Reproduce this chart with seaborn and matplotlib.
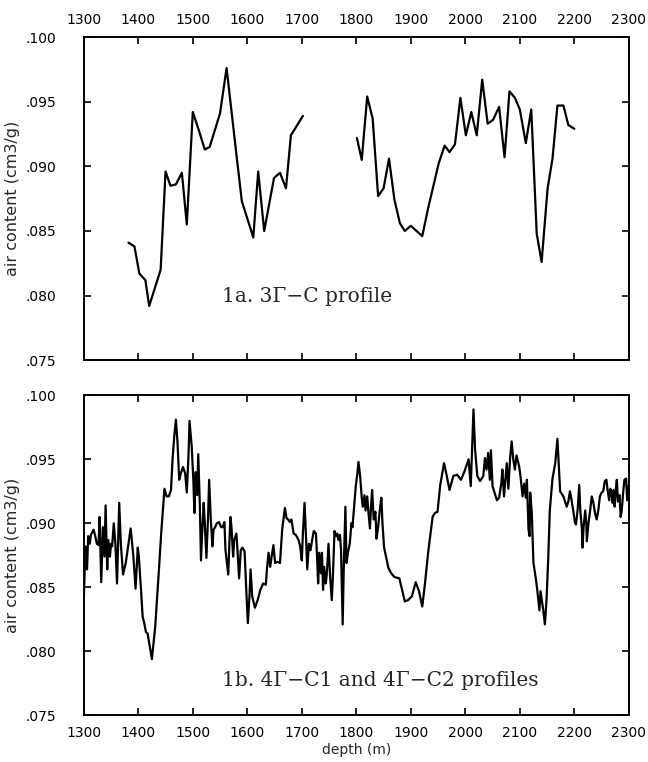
import numpy as np
import pandas as pd
import matplotlib
matplotlib.use("Agg")
import matplotlib.pyplot as plt
import seaborn as sns
from matplotlib.ticker import FuncFormatter

# -----------------------------
# DATA
# -----------------------------

# 1a. 3G-C profile, first section
depth_3gc_a = [1382, 1393, 1402, 1413, 1420, 1441, 1450, 1459, 1469, 1480, 1489, 1500,
               1511, 1522, 1531, 1550, 1562, 1582, 1590, 1611, 1620, 1631, 1649, 1660,
               1671, 1680, 1702]
air_3gc_a = [.0841, .0838, .0817, .0812, .0792, .0820, .0896, .0885, .0886, .0895, .0855, .0942,
             .0928, .0913, .0915, .0941, .0976, .0902, .0873, .0845, .0896, .0850, .0891, .0895,
             .0883, .0924, .0939]

# 1a. 3G-C profile, second section
depth_3gc_b = [1801, 1810, 1820, 1830, 1840, 1850, 1860, 1870, 1880, 1889, 1900, 1921,
               1932, 1951, 1962, 1971, 1981, 1991, 2001, 2011, 2021, 2031, 2041, 2051,
               2062, 2072, 2081, 2091, 2100, 2111, 2121, 2131, 2140, 2151, 2160, 2169,
               2180, 2189, 2200]
air_3gc_b = [.0922, .0905, .0954, .0937, .0877, .0883, .0906, .0874, .0856, .0850, .0854, .0846,
             .0868, .0902, .0916, .0911, .0917, .0953, .0924, .0942, .0924, .0967, .0933, .0936,
             .0946, .0907, .0958, .0953, .0944, .0918, .0944, .0848, .0826, .0883, .0906, .0947,
             .0947, .0932, .0929]

# 1b. 4G-C1 and 4G-C2 profiles
depth_4gc = [1300, 1303, 1306, 1308, 1311, 1313, 1318, 1321, 1324, 1327, 1329, 1332,
             1335, 1338, 1340, 1343, 1345, 1348, 1350, 1352, 1355, 1358, 1361, 1365,
             1368, 1372, 1377, 1382, 1386, 1391, 1395, 1399, 1401, 1405, 1408, 1411,
             1414, 1417, 1421, 1425, 1431, 1437, 1442, 1445, 1448, 1452, 1456, 1460,
             1463, 1466, 1469, 1472, 1475, 1478, 1482, 1486, 1489, 1492, 1494, 1498,
             1501, 1503, 1505, 1508, 1510, 1513, 1515, 1518, 1520, 1522, 1525, 1528,
             1530, 1533, 1536, 1538, 1541, 1544, 1548, 1552, 1555, 1558, 1560, 1565,
             1569, 1571, 1574, 1576, 1580, 1582, 1585, 1588, 1591, 1595, 1598, 1601,
             1604, 1606, 1609, 1614, 1619, 1624, 1629, 1634, 1636, 1639, 1642, 1645,
             1648, 1651, 1655, 1660, 1664, 1669, 1672, 1675, 1678, 1681, 1685, 1689,
             1694, 1697, 1700, 1702, 1705, 1708, 1710, 1713, 1716, 1719, 1722, 1726,
             1728, 1730, 1732, 1735, 1737, 1739, 1741, 1744, 1746, 1749, 1752, 1755,
             1757, 1760, 1762, 1765, 1767, 1770, 1772, 1775, 1777, 1780, 1782, 1785,
             1788, 1791, 1793, 1796, 1799, 1802, 1804, 1807, 1810, 1812, 1815, 1817,
             1820, 1822, 1825, 1827, 1829, 1832, 1835, 1837, 1840, 1843, 1846, 1848,
             1851, 1855, 1859, 1864, 1870, 1879, 1884, 1889, 1895, 1902, 1909, 1915,
             1921, 1926, 1932, 1940, 1944, 1949, 1954, 1961, 1966, 1971, 1978, 1985,
             1992, 1998, 2006, 2010, 2015, 2018, 2022, 2027, 2033, 2036, 2039, 2042,
             2045, 2047, 2050, 2055, 2058, 2062, 2066, 2068, 2071, 2074, 2076, 2079,
             2082, 2085, 2088, 2091, 2094, 2099, 2102, 2105, 2108, 2111, 2113, 2116,
             2118, 2119, 2122, 2125, 2129, 2132, 2136, 2138, 2143, 2146, 2149, 2152,
             2155, 2160, 2165, 2169, 2174, 2180, 2183, 2186, 2189, 2192, 2195, 2198,
             2201, 2203, 2206, 2209, 2211, 2214, 2215, 2217, 2220, 2222, 2223, 2226,
             2229, 2232, 2235, 2238, 2241, 2244, 2247, 2250, 2253, 2256, 2259, 2261,
             2264, 2266, 2268, 2270, 2272, 2274, 2276, 2278, 2280, 2283, 2285, 2287,
             2290, 2292, 2295, 2297, 2299]
air_4gc = [.0840, .0882, .0864, .0890, .0884, .0891, .0895, .0890, .0884, .0883, .0905, .0854,
           .0897, .0874, .0914, .0864, .0887, .0874, .0884, .0882, .0900, .0884, .0853, .0916,
           .0884, .0860, .0869, .0884, .0896, .0874, .0849, .0881, .0874, .0848, .0827, .0822,
           .0815, .0814, .0804, .0794, .0819, .0858, .0892, .0910, .0927, .0921, .0921, .0926,
           .0951, .0968, .0981, .0963, .0934, .0939, .0944, .0939, .0924, .0952, .0980, .0960,
           .0934, .0908, .0940, .0922, .0954, .0913, .0871, .0900, .0916, .0900, .0873, .0905,
           .0934, .0903, .0882, .0895, .0897, .0900, .0901, .0897, .0897, .0901, .0879, .0860,
           .0905, .0897, .0874, .0887, .0892, .0879, .0857, .0879, .0881, .0878, .0849, .0822,
           .0843, .0864, .0843, .0834, .0840, .0848, .0853, .0852, .0864, .0877, .0866, .0875,
           .0883, .0869, .0870, .0869, .0895, .0912, .0904, .0903, .0901, .0903, .0892, .0891,
           .0887, .0882, .0871, .0892, .0916, .0887, .0864, .0884, .0879, .0887, .0894, .0892,
           .0874, .0853, .0877, .0861, .0877, .0848, .0866, .0853, .0861, .0884, .0858, .0840,
           .0858, .0894, .0890, .0892, .0887, .0891, .0879, .0821, .0866, .0913, .0869, .0878,
           .0884, .0900, .0897, .0913, .0929, .0939, .0948, .0937, .0920, .0913, .0922, .0910,
           .0921, .0910, .0896, .0913, .0926, .0903, .0909, .0888, .0897, .0910, .0920, .0900,
           .0881, .0873, .0865, .0861, .0858, .0857, .0848, .0839, .0840, .0843, .0854, .0847,
           .0835, .0853, .0878, .0905, .0908, .0909, .0930, .0947, .0937, .0926, .0937, .0938,
           .0934, .0940, .0950, .0929, .0989, .0957, .0937, .0933, .0937, .0951, .0942, .0955,
           .0934, .0957, .0929, .0922, .0918, .0920, .0931, .0942, .0921, .0937, .0947, .0927,
           .0950, .0964, .0950, .0942, .0953, .0944, .0934, .0921, .0931, .0920, .0934, .0895,
           .0890, .0924, .0908, .0869, .0858, .0848, .0832, .0847, .0832, .0821, .0840, .0871,
           .0910, .0935, .0947, .0966, .0925, .0921, .0917, .0913, .0917, .0925, .0918, .0910,
           .0901, .0899, .0910, .0930, .0910, .0895, .0881, .0897, .0910, .0900, .0886, .0900,
           .0910, .0921, .0916, .0908, .0903, .0910, .0921, .0924, .0925, .0933, .0934, .0926,
           .0918, .0927, .0925, .0916, .0926, .0913, .0926, .0934, .0917, .0922, .0905, .0910,
           .0926, .0934, .0935, .0918, .0929]

x_ticks = list(range(1300, 2301, 100))
y_ticks = [.075, .080, .085, .090, .095, .100]
label_a = "1a. 3\u0393\u2212C profile"
label_b = "1b. 4\u0393\u2212C1 and 4\u0393\u2212C2 profiles"

# -----------------------------
# PLOT
# -----------------------------

sns.set_style("ticks")
plt.rcParams['font.family'] = ['DejaVu Sans']

fig = plt.figure(figsize=(6.48, 7.62), dpi=100)
ax_top = fig.add_axes([0.1293, 0.5272, 0.8411, 0.4242])
ax_bot = fig.add_axes([0.1293, 0.0613, 0.8411, 0.4199])

line_kw = dict(color="black", linewidth=1.6, estimator=None, sort=False)
sns.lineplot(x=depth_3gc_a, y=air_3gc_a, ax=ax_top, **line_kw)
sns.lineplot(x=depth_3gc_b, y=air_3gc_b, ax=ax_top, **line_kw)
sns.lineplot(x=depth_4gc, y=air_4gc, ax=ax_bot, **line_kw)

fmt = FuncFormatter(lambda v, pos: f"{v:.3f}"[1:])

for ax in (ax_top, ax_bot):
    ax.set_xlim(1300, 2300)
    ax.set_ylim(.075, .100)
    ax.set_xticks(x_ticks)
    ax.set_yticks(y_ticks)
    ax.yaxis.set_major_formatter(fmt)
    for s in ax.spines.values():
        s.set_visible(True)
        s.set_linewidth(1.4)
        s.set_color("black")
    ax.tick_params(direction="in", length=5, width=1.2, colors="black",
                   top=True, bottom=True, left=True, right=True, labelsize=10)
    ax.tick_params(axis="y", pad=20)
    ax.set_ylabel("air content (cm3/g)", fontsize=11.5)
    ax.yaxis.set_label_coords(-0.1317, 0.5)
    ax.yaxis.label.set_va("center")

ax_top.tick_params(axis="x", labeltop=True, labelbottom=False, pad=7)
ax_top.set_xlabel("")
ax_bot.tick_params(axis="x", labelbottom=True, labeltop=False, pad=8)
ax_bot.set_xlabel("depth (m)", fontsize=10, labelpad=2)

ax_top.text(0.2536, 0.196, label_a, transform=ax_top.transAxes,
            family="DejaVu Serif", fontsize=14.5, va="center", ha="left")
ax_bot.text(0.2536, 0.11, label_b, transform=ax_bot.transAxes,
            family="DejaVu Serif", fontsize=14.5, va="center", ha="left")

plt.savefig("out.png", dpi=100)
plt.close()
